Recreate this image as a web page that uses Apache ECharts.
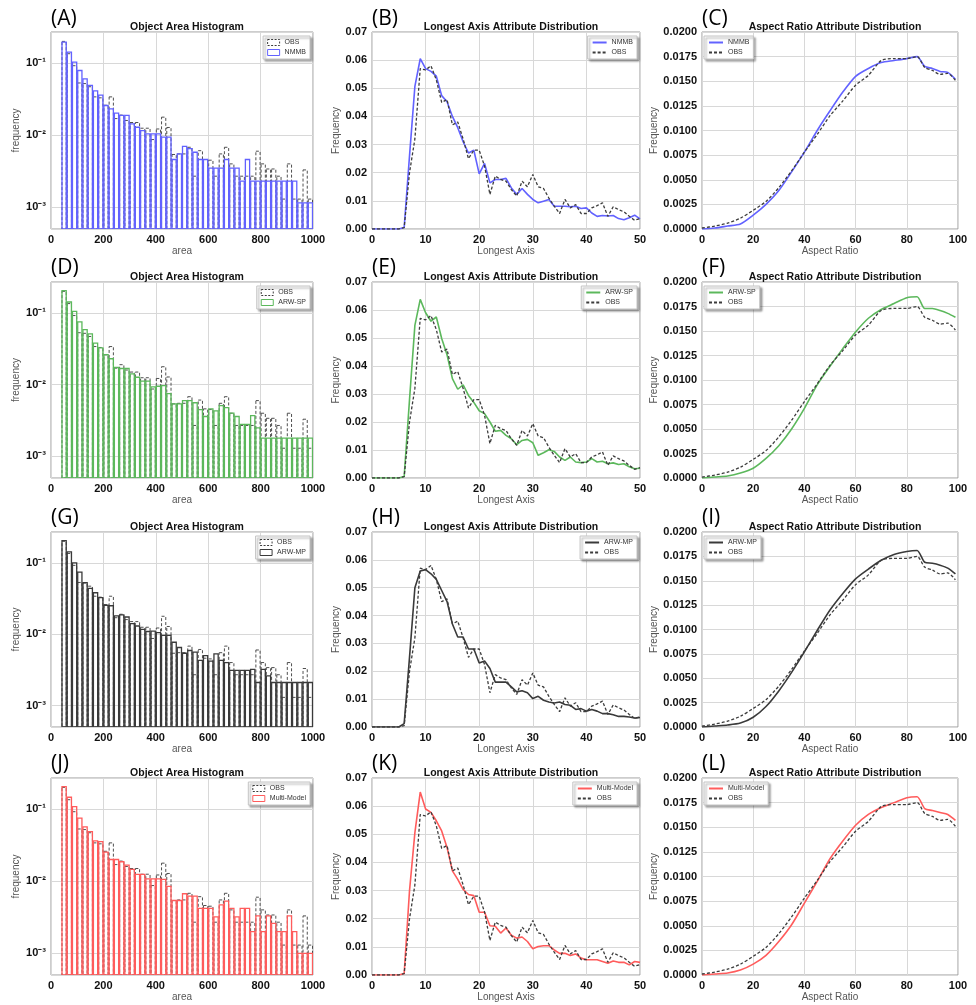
<!DOCTYPE html>
<html>
<head>
<meta charset="utf-8">
<script src="https://cdn.jsdelivr.net/npm/echarts@6/dist/echarts.min.js"></script>
<style>
  html, body { margin: 0; padding: 0; background: #fff; }
  #chart { width: 976px; height: 1005px; }
</style>
</head>
<body>
<div id="chart"></div>
<script>
// ---------- Object area histograms (bins of 20, from 40 to 1000) ----------
const areaBinEdges = [40, 60, 80, 100, 120, 140, 160, 180, 200, 220, 240, 260, 280, 300, 320, 340, 360, 380, 400, 420,
  440, 460, 480, 500, 520, 540, 560, 580, 600, 620, 640, 660, 680, 700, 720, 740, 760, 780, 800, 820,
  840, 860, 880, 900, 920, 940, 960, 980, 1000];

const obsArea = [0.200, 0.135, 0.092, 0.053, 0.052, 0.047, 0.034, 0.033, 0.026, 0.034,
  0.017, 0.019, 0.016, 0.015, 0.015, 0.0125, 0.0125, 0.0087, 0.0122, 0.0178,
  0.0128, 0.0054, 0.0055, 0.0055, 0.0068, 0.0027, 0.0061, 0.0046, 0.0045, 0.0027,
  0.0055, 0.0068, 0.0040, 0.0027, 0.0027, 0.0027, 0.0027, 0.0060, 0.0040, 0.0034,
  0.0034, 0.0027, 0.0013, 0.0040, 0.0013, 0.0013, 0.0033, 0.0013];

const nmmbArea = [0.196, 0.142, 0.103, 0.079, 0.0605, 0.049, 0.0413, 0.036, 0.0258, 0.0232,
  0.0202, 0.0188, 0.0188, 0.0144, 0.0129, 0.0116, 0.0104, 0.0104, 0.0104, 0.0094,
  0.0094, 0.0046, 0.0055, 0.0070, 0.0065, 0.0058, 0.0046, 0.0046, 0.0035, 0.0035,
  0.0035, 0.0046, 0.0035, 0.0035, 0.0023, 0.0046, 0.0023, 0.0023, 0.0023, 0.0023,
  0.0023, 0.0023, 0.0023, 0.0023, 0.0023, 0.00115, 0.00115, 0.00115];

const arwSpArea = [0.205, 0.142, 0.105, 0.075, 0.0585, 0.051, 0.038, 0.0325, 0.0263, 0.023,
  0.0174, 0.0168, 0.0168, 0.0141, 0.0127, 0.0112, 0.0112, 0.0093, 0.0095, 0.0097,
  0.0075, 0.0054, 0.0054, 0.0060, 0.0060, 0.0056, 0.0045, 0.0036, 0.0046, 0.0043,
  0.0051, 0.0048, 0.0040, 0.0036, 0.0028, 0.0028, 0.0037, 0.0025, 0.0018, 0.0018,
  0.0018, 0.0018, 0.0018, 0.0018, 0.0018, 0.0018, 0.0018, 0.0018];

const arwMpArea = [0.205, 0.142, 0.100, 0.074, 0.0526, 0.0438, 0.038, 0.0325, 0.0254, 0.025,
  0.018, 0.0186, 0.0174, 0.014, 0.013, 0.0117, 0.0109, 0.011, 0.0105, 0.0096,
  0.0096, 0.0077, 0.0065, 0.0054, 0.0059, 0.0056, 0.0043, 0.0050, 0.0042, 0.0053,
  0.0043, 0.0040, 0.0031, 0.0031, 0.0031, 0.0031, 0.0032, 0.0021, 0.0032, 0.0026,
  0.0021, 0.0021, 0.0021, 0.0021, 0.0021, 0.0021, 0.0021, 0.0021];

const multiArea = [0.205, 0.146, 0.108, 0.075, 0.0567, 0.0488, 0.0362, 0.0354, 0.0253, 0.020,
  0.020, 0.0186, 0.0167, 0.0146, 0.0124, 0.0124, 0.0108, 0.0108, 0.0108, 0.0106,
  0.0085, 0.0054, 0.0054, 0.0067, 0.0062, 0.0062, 0.0042, 0.0042, 0.0042, 0.0032,
  0.0047, 0.0053, 0.0042, 0.0032, 0.0042, 0.0042, 0.0020, 0.0033, 0.0020, 0.0033,
  0.0026, 0.0020, 0.0020, 0.0033, 0.0020, 0.0010, 0.0010, 0.0010];

// ---------- Longest axis distributions ----------
const longestX = [0, 1, 2, 3, 4, 5, 6, 7, 8, 9, 10, 11, 12, 13, 14, 15, 16, 17, 18, 19, 20, 21, 22, 23, 24, 25,
  26, 27, 28, 29, 30, 31, 32, 33, 34, 35, 36, 37, 38, 39, 40, 41, 42, 43, 44, 45, 46, 47, 48, 49, 50];

const obsLongest = [0, 0, 0, 0, 0, 0, 0.0005, 0.020, 0.032, 0.057, 0.0565, 0.058, 0.053, 0.045, 0.046, 0.037,
  0.038, 0.032, 0.025, 0.028, 0.028, 0.0224, 0.0123, 0.0188, 0.0176, 0.017,
  0.014, 0.0117, 0.017, 0.015, 0.0194, 0.015, 0.0144, 0.011, 0.0081, 0.0055,
  0.0105, 0.0075, 0.0087, 0.0055, 0.0055, 0.0075, 0.0083, 0.0093, 0.0045, 0.0079,
  0.0069, 0.0061, 0.0045, 0.0031, 0.0037];

const nmmbLongest = [0, 0, 0, 0, 0, 0, 0.0005, 0.026, 0.0507, 0.0605, 0.057, 0.056, 0.0543, 0.0474, 0.0452, 0.040,
  0.036, 0.031, 0.027, 0.028, 0.0196, 0.0233, 0.0164, 0.0176, 0.0176, 0.018,
  0.0146, 0.0123, 0.0144, 0.0123, 0.0105, 0.0093, 0.0099, 0.0105, 0.0081, 0.0081,
  0.0081, 0.0079, 0.0081, 0.0073, 0.0075, 0.0057, 0.0045, 0.0048, 0.0046, 0.0048,
  0.0037, 0.0033, 0.0040, 0.0049, 0.0036];

const arwSpLongest = [0, 0, 0, 0, 0, 0, 0.0005, 0.028, 0.0545, 0.0638, 0.059, 0.056, 0.0575, 0.0498, 0.044, 0.0355,
  0.0317, 0.0333, 0.0295, 0.027, 0.024, 0.023, 0.020, 0.0167, 0.017, 0.0152,
  0.014, 0.0119, 0.0134, 0.0138, 0.0126, 0.0081, 0.009, 0.0101, 0.0095, 0.0075,
  0.0063, 0.0075, 0.0057, 0.0055, 0.0057, 0.0069, 0.0057, 0.006, 0.0051, 0.0054,
  0.0048, 0.0051, 0.004, 0.0033, 0.0035];

const arwMpLongest = [0, 0, 0, 0, 0, 0, 0.0012, 0.025, 0.050, 0.056, 0.0565, 0.055, 0.053, 0.049, 0.045, 0.037,
  0.0323, 0.0323, 0.028, 0.028, 0.023, 0.0237, 0.021, 0.0161, 0.0161, 0.0161,
  0.0144, 0.0126, 0.013, 0.0123, 0.0102, 0.011, 0.0096, 0.009, 0.0086, 0.009,
  0.0081, 0.0078, 0.0063, 0.0066, 0.0057, 0.0063, 0.0057, 0.0048, 0.0048, 0.0044,
  0.0038, 0.0038, 0.0036, 0.0032, 0.0034];

const multiLongest = [0, 0, 0, 0, 0, 0, 0.0005, 0.030, 0.0506, 0.065, 0.059, 0.0578, 0.0548, 0.0512, 0.0453, 0.037,
  0.034, 0.0304, 0.0286, 0.0282, 0.0223, 0.0223, 0.0175, 0.0173, 0.0149, 0.0167,
  0.0141, 0.0131, 0.0135, 0.0119, 0.0093, 0.0101, 0.0104, 0.0104, 0.0089, 0.0077,
  0.0077, 0.0069, 0.0075, 0.006, 0.0054, 0.0054, 0.0054, 0.0048, 0.0042, 0.005,
  0.0045, 0.0045, 0.0036, 0.0048, 0.0045];

// ---------- Aspect ratio distributions ----------
const aspectX = [0, 5, 10, 15, 20, 25, 30, 35, 40, 45, 50, 55, 60, 65, 70, 75, 80, 84, 87, 90, 93, 96, 99];

const obsAspect = [0.0001, 0.0003, 0.0006, 0.0011, 0.0019, 0.0028, 0.0042, 0.0059, 0.0078, 0.0096, 0.0115, 0.013,
  0.0146, 0.0156, 0.0171, 0.0173, 0.0173, 0.0175, 0.0164, 0.0161, 0.0157, 0.0158, 0.0151];
const nmmbAspect = [0.0, 0.0001, 0.0003, 0.0005, 0.0014, 0.0025, 0.0039, 0.0058, 0.0078, 0.010, 0.012, 0.0139,
  0.0155, 0.0163, 0.0169, 0.0171, 0.0173, 0.0175, 0.0165, 0.0163, 0.016, 0.0159, 0.0152];
const arwSpAspect = [0, 0.0001, 0.0002, 0.0005, 0.001, 0.002, 0.0033, 0.005, 0.0071, 0.0095, 0.0114, 0.0132,
  0.0149, 0.0163, 0.0172, 0.0178, 0.0184, 0.0185, 0.0173, 0.0173, 0.0171, 0.0168, 0.0164];
const arwMpAspect = [0, 0.0001, 0.0002, 0.0004, 0.001, 0.0021, 0.0037, 0.0056, 0.0077, 0.0099, 0.012, 0.0137,
  0.0152, 0.0162, 0.0171, 0.0177, 0.018, 0.0181, 0.0169, 0.0168, 0.0166, 0.0163, 0.0157];
const multiAspect = [0, 0.0001, 0.0002, 0.0005, 0.0011, 0.002, 0.0034, 0.0051, 0.0073, 0.0095, 0.0118, 0.0136,
  0.0152, 0.0163, 0.017, 0.0175, 0.018, 0.0181, 0.0169, 0.0167, 0.0165, 0.0163, 0.0157];

// ---------- Models (one row each) ----------
const models = [
  { name: 'NMMB',        color: '#6262ff', area: nmmbArea,  longest: nmmbLongest,  aspect: nmmbAspect,  letters: ['(A)', '(B)', '(C)'] },
  { name: 'ARW-SP',      color: '#5cb85c', area: arwSpArea, longest: arwSpLongest, aspect: arwSpAspect, letters: ['(D)', '(E)', '(F)'] },
  { name: 'ARW-MP',      color: '#3a3a3a', area: arwMpArea, longest: arwMpLongest, aspect: arwMpAspect, letters: ['(G)', '(H)', '(I)'] },
  { name: 'Multi-Model', color: '#ff5c5c', area: multiArea, longest: multiLongest, aspect: multiAspect, letters: ['(J)', '(K)', '(L)'] }
];

// ---------- Layout ----------
const W = 976;
const COL_LEFT = [51, 372, 702];
const COL_WIDTH = [262, 268, 256];
const ROW_TOP = [32, 282, 532, 778];
const ROW_HEIGHT = [197, 196, 195, 197];
const LETTER_TOP = [9, 258, 508, 754];
const OBS_COLOR = '#3c3c3c';
const FONT = '"Liberation Sans", Arial, sans-serif';

const SUP = { '0': '⁰', '1': '¹', '2': '²', '3': '³', '4': '⁴', '-': '⁻' };
function powerLabel(v) {
  const e = Math.log10(v);
  const r = Math.round(e);
  if (Math.abs(e - r) > 1e-6) return '';
  return '10' + String(r).split('').map(c => SUP[c] || c).join('');
}

const grid = [], xAxis = [], yAxis = [], series = [], legend = [], title = [], graphic = [];

const tickLabel = { color: '#111', fontWeight: 'bold', fontSize: 11, fontFamily: FONT, margin: 5 };
const axisName = { color: '#555', fontSize: 10, fontFamily: FONT };
const splitLine = { show: true, lineStyle: { color: '#d8d8d8', width: 1 } };

function addPanel(row, col, cfg) {
  const gi = grid.length;
  const left = COL_LEFT[col], top = ROW_TOP[row], width = COL_WIDTH[col], height = ROW_HEIGHT[row];
  grid.push({ left, top, width, height, show: true, borderColor: '#9a9a9a', borderWidth: 1, backgroundColor: '#fff', containLabel: false });
  xAxis.push(Object.assign({
    gridIndex: gi, type: 'value', name: cfg.xName, nameLocation: 'middle', nameGap: 17,
    nameTextStyle: axisName, axisLine: { show: false }, axisTick: { show: false },
    axisLabel: Object.assign({}, tickLabel, { formatter: v => String(v) }), splitLine
  }, cfg.x));
  yAxis.push(Object.assign({
    gridIndex: gi, name: cfg.yName, nameLocation: 'middle', nameGap: cfg.yNameGap,
    nameTextStyle: axisName, axisLine: { show: false }, axisTick: { show: false },
    axisLabel: Object.assign({}, tickLabel, { formatter: cfg.yFormatter }), splitLine
  }, cfg.y));
  title.push({
    text: cfg.title, left: left + width / 2, top: top - 15, textAlign: 'center',
    textStyle: { fontSize: 10.5, fontWeight: 'bold', color: '#111', fontFamily: FONT }
  });
  graphic.push({
    type: 'text', left: left, top: LETTER_TOP[row],
    style: { text: cfg.letter, font: '21px "Open Sans", "Noto Sans", sans-serif', fill: '#000' }
  });
  return gi;
}

function histSeries(name, values, gi, color, dashed) {
  return {
    type: 'custom', name, xAxisIndex: gi, yAxisIndex: gi, clip: true,
    itemStyle: { color },
    z: dashed ? 2 : 3,
    data: values.map((v, i) => [areaBinEdges[i], areaBinEdges[i + 1], v]),
    encode: { x: [0, 1], y: 2 },
    renderItem(params, api) {
      const a = api.coord([api.value(0), api.value(2)]);
      const b = api.coord([api.value(1), api.value(2)]);
      const base = params.coordSys.y + params.coordSys.height;
      return {
        type: 'rect',
        shape: { x: a[0] + 0.5, y: a[1], width: b[0] - a[0] - 1, height: base - a[1] },
        style: dashed
          ? { fill: 'none', stroke: color, lineWidth: 0.9, lineDash: [3, 2] }
          : { fill: 'none', stroke: color, lineWidth: 1.3 }
      };
    }
  };
}

function lineSeries(name, xs, ys, gi, color, dashed, smooth) {
  return {
    type: 'line', name, xAxisIndex: gi, yAxisIndex: gi, symbol: 'none', smooth: smooth || false,
    data: xs.map((x, i) => [x, ys[i]]),
    lineStyle: dashed ? { color, width: 1.3, type: [3, 2] } : { color, width: 1.6 },
    itemStyle: { color },
    z: dashed ? 3 : 2
  };
}

function legendBox(gi, items, side, isLine) {
  const g = grid[gi];
  const pos = side === 'left'
    ? { left: g.left + 2, top: g.top + 4 }
    : { right: W - (g.left + g.width) + 3, top: g.top + 4 };
  return Object.assign(pos, {
    orient: 'vertical', padding: [3, 4, 3, 4], itemGap: 3,
    itemWidth: isLine ? 14 : 12, itemHeight: 6,
    // line keys show only the stroke, no marker
    itemStyle: isLine ? { opacity: 0 } : undefined,
    backgroundColor: '#fff', borderColor: '#c4c4c4', borderWidth: 1,
    shadowBlur: 2, shadowOffsetX: 2, shadowOffsetY: 2, shadowColor: 'rgba(0,0,0,0.35)',
    textStyle: { fontSize: 7, color: '#333', fontFamily: FONT },
    formatter: n => n.split('#')[0],
    selectedMode: false,
    data: items
  });
}

models.forEach((m, row) => {
  // Object area histogram
  let gi = addPanel(row, 0, {
    letter: m.letters[0], title: 'Object Area Histogram', xName: 'area', yName: 'frequency', yNameGap: 30,
    x: { min: 0, max: 1000, interval: 200 },
    y: { type: 'log', logBase: 10, min: 0.0005, max: 0.27 },
    yFormatter: powerLabel
  });
  const obsH = 'OBS#' + m.letters[0], modH = m.name + '#' + m.letters[0];
  series.push(histSeries(obsH, obsArea, gi, OBS_COLOR, true));
  series.push(histSeries(modH, m.area, gi, m.color, false));
  legend.push(legendBox(gi, [
    { name: obsH, icon: 'rect', itemStyle: { color: '#fff', borderColor: OBS_COLOR, borderWidth: 1, borderType: [2, 1.5] } },
    { name: modH, icon: 'rect', itemStyle: { color: '#fff', borderColor: m.color, borderWidth: 1, borderType: 'solid' } }
  ], 'right', false));

  // Longest axis distribution
  gi = addPanel(row, 1, {
    letter: m.letters[1], title: 'Longest Axis Attribute Distribution', xName: 'Longest Axis', yName: 'Frequency', yNameGap: 27,
    x: { min: 0, max: 50, interval: 10 },
    y: { type: 'value', min: 0, max: 0.07, interval: 0.01 },
    yFormatter: v => v.toFixed(2)
  });
  const modL = m.name + '#' + m.letters[1], obsL = 'OBS#' + m.letters[1];
  series.push(lineSeries(modL, longestX, m.longest, gi, m.color, false));
  series.push(lineSeries(obsL, longestX, obsLongest, gi, OBS_COLOR, true));
  legend.push(legendBox(gi, [modL, obsL], 'right', true));

  // Aspect ratio distribution
  gi = addPanel(row, 2, {
    letter: m.letters[2], title: 'Aspect Ratio Attribute Distribution', xName: 'Aspect Ratio', yName: 'Frequency', yNameGap: 39,
    x: { min: 0, max: 100, interval: 20 },
    y: { type: 'value', min: 0, max: 0.02, interval: 0.0025 },
    yFormatter: v => v.toFixed(4)
  });
  const modA = m.name + '#' + m.letters[2], obsA = 'OBS#' + m.letters[2];
  series.push(lineSeries(modA, aspectX, m.aspect, gi, m.color, false, 0.25));
  series.push(lineSeries(obsA, aspectX, obsAspect, gi, OBS_COLOR, true, 0.25));
  legend.push(legendBox(gi, [modA, obsA], 'left', true));
});

const chart = echarts.init(document.getElementById('chart'), null, { renderer: 'canvas' });
chart.setOption({
  backgroundColor: '#fff',
  animation: false,
  textStyle: { fontFamily: FONT },
  title, grid, xAxis, yAxis, series, legend, graphic
});
</script>
</body>
</html>
